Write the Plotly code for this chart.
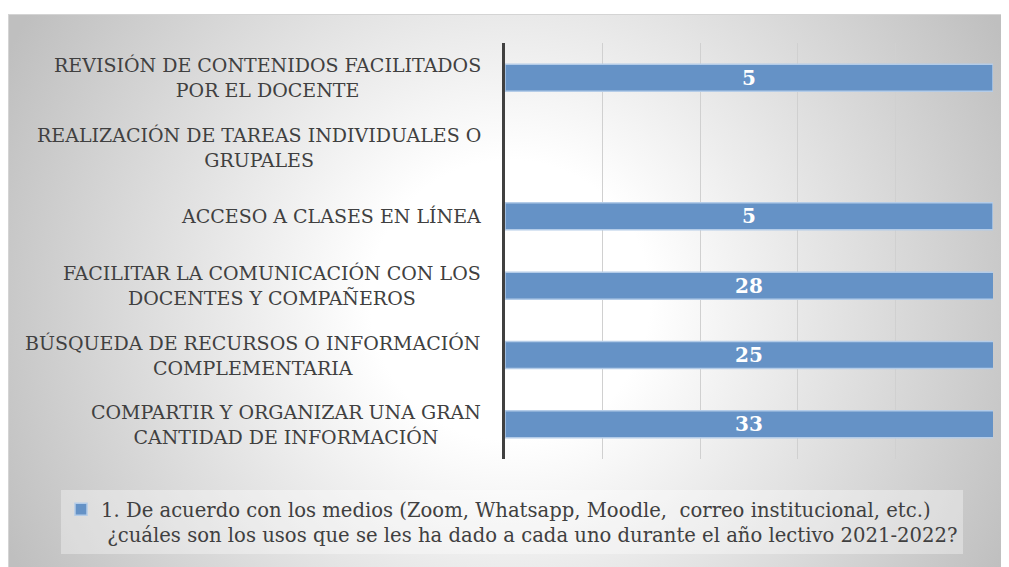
import base64
import plotly.graph_objects as go

# ---- data (bottom to top, as drawn on the category axis) ----
categories = [
    "COMPARTIR Y ORGANIZAR UNA GRAN<br>CANTIDAD DE INFORMACIÓN",
    "BÚSQUEDA DE RECURSOS O INFORMACIÓN<br>COMPLEMENTARIA",
    "FACILITAR LA COMUNICACIÓN CON LOS<br>DOCENTES Y COMPAÑEROS",
    "ACCESO A CLASES EN LÍNEA",
    "REALIZACIÓN DE TAREAS INDIVIDUALES O<br>GRUPALES",
    "REVISIÓN DE CONTENIDOS FACILITADOS<br>POR EL DOCENTE",
]
values = [33, 25, 28, 5, None, 5]
series_name = ("1. De acuerdo con los medios (Zoom, Whatsapp, Moodle,  correo institucional, etc.)"
               "<br> ¿cuáles son los usos que se les ha dado a cada uno durante el año lectivo 2021-2022?")
x_max = 5
x_dtick = 1

# ---- layout geometry (page body adds an 8px margin) ----
W, H = 1001, 559
ml, mr, mt, mb = 497, 16, 35, 108
pw, ph = W - ml - mr, H - mt - mb
FONT = "DejaVu Serif"

# background: radial gradient chart area as an inline SVG
svg = f'''<svg xmlns="http://www.w3.org/2000/svg" width="{W}" height="{H}" viewBox="0 0 {W} {H}">
<defs><radialGradient id="g" gradientUnits="userSpaceOnUse" cx="502" cy="292" r="560">
<stop offset="0" stop-color="#ffffff"/><stop offset="0.25" stop-color="#ffffff"/>
<stop offset="1" stop-color="#bfbfbf"/></radialGradient></defs>
<rect x="0.5" y="6.5" width="{W}" height="{H}" fill="url(#g)" stroke="#d4d4d4" stroke-width="1"/>
</svg>'''
bg_uri = "data:image/svg+xml;base64," + base64.b64encode(svg.encode("utf-8")).decode("ascii")

fig = go.Figure()
fig.add_trace(go.Bar(
    x=values, y=categories, orientation="h", name=series_name,
    marker=dict(color="#6592c6", line=dict(color="#b4cce8", width=1.5)),
    width=0.39, showlegend=True, hoverinfo="x+y",
))

annotations = []
# category labels (centered multi-line blocks, right aligned to the axis)
for c in categories:
    annotations.append(dict(
        xref="paper", yref="y", x=0, y=c, xanchor="right", xshift=-22,
        text=c, align="center", showarrow=False,
        font=dict(family=FONT, size=19, color="#404040"),
    ))
# value labels inside the (clipped) bars
for c, v in zip(categories, values):
    if v is None:
        continue
    annotations.append(dict(
        xref="x", yref="y", x=min(v, x_max) / 2, y=c, text=f"<b>{v}</b>",
        showarrow=False, font=dict(family=FONT, size=20, color="#ffffff"),
    ))

fig.update_layout(
    width=W, height=H,
    margin=dict(l=ml, r=mr, t=mt, b=mb, pad=0),
    paper_bgcolor="#ffffff", plot_bgcolor="rgba(0,0,0,0)",
    images=[dict(source=bg_uri, xref="paper", yref="paper",
                 x=-ml / pw, y=1 + mt / ph, sizex=W / pw, sizey=H / ph,
                 xanchor="left", yanchor="top", sizing="stretch", layer="below")],
    xaxis=dict(range=[0, x_max], dtick=x_dtick, tick0=0, showticklabels=False,
               showgrid=True, gridcolor="#d0d0d0", gridwidth=1, zeroline=False,
               showline=False, fixedrange=True),
    yaxis=dict(showticklabels=False, showgrid=False, zeroline=False,
               showline=True, linecolor="#404040", linewidth=3,
               categoryorder="array", categoryarray=categories, fixedrange=True),
    legend=dict(orientation="h", x=(53 - ml) / pw, xanchor="left",
                y=-(482 - (H - mb)) / ph, yanchor="top", valign="top",
                bgcolor="rgba(255,255,255,0.35)",
                font=dict(family=FONT, size=19.6, color="#404040")),
    annotations=annotations,
    bargap=0.6,
)

fig.write_html("out.html")
